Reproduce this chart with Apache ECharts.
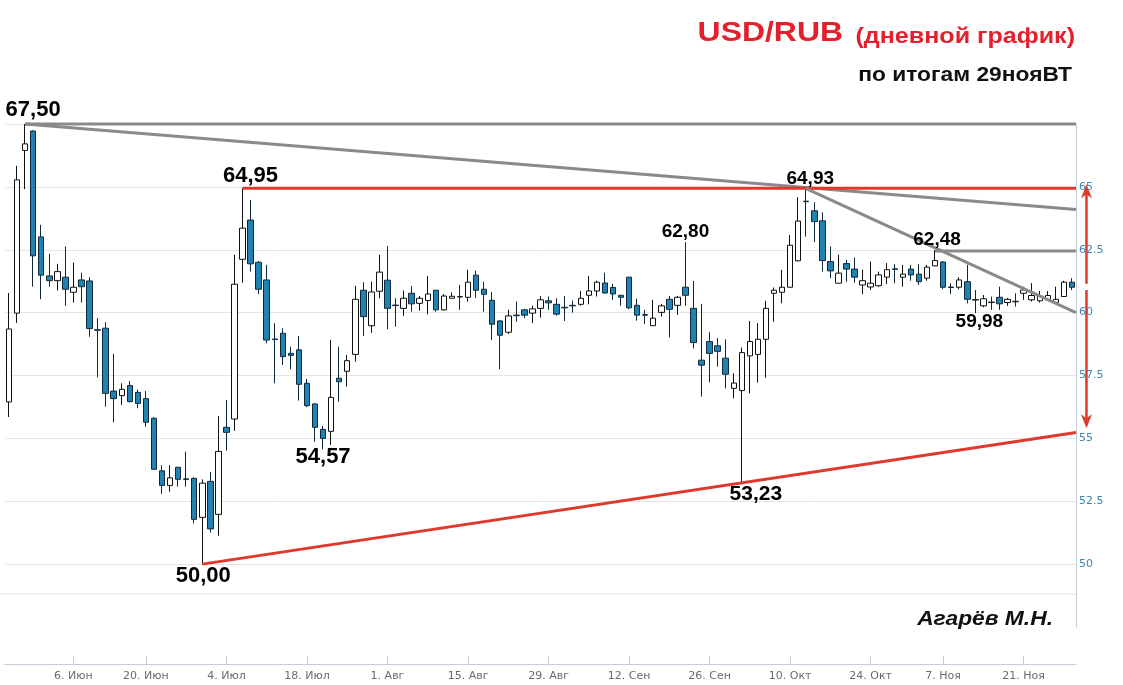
<!DOCTYPE html>
<html>
<head>
<meta charset="utf-8">
<script src="https://cdn.jsdelivr.net/npm/echarts@6/dist/echarts.min.js"></script>
<style>
  html, body { margin: 0; padding: 0; background: #fff; }
  #chart { width: 1123px; height: 685px; }
</style>
</head>
<body>
<div id="chart"></div>
<script>
// торговые дни MOEX с 25 мая по 29 ноября 2022
const firstDay = '2022-05-25'
const lastDay = '2022-11-29'
const holidays = ['2022-06-13', '2022-11-04']
const tickDates = ['2022-06-06', '2022-06-20', '2022-07-04', '2022-07-18', '2022-08-01', '2022-08-15',
  '2022-08-29', '2022-09-12', '2022-09-26', '2022-10-10', '2022-10-24', '2022-11-07', '2022-11-21']
const monthNames = ['Янв', 'Фев', 'Мар', 'Апр', 'Май', 'Июн', 'Июл', 'Авг', 'Сен', 'Окт', 'Ноя', 'Дек']

// OHLC
const opens = [56.45, 59.98, 66.45, 67.22, 63.01, 61.46, 61.27, 61.41, 60.81, 61.30,
  61.26, 59.32, 59.38, 56.88, 56.70, 57.10, 56.83, 56.58, 55.80, 53.71,
  53.13, 53.85, 53.39, 53.41, 51.86, 53.29, 51.98, 55.44, 55.77, 62.12,
  63.68, 62.00, 61.30, 58.95, 59.18, 58.38, 58.52, 57.19, 56.37, 55.36,
  55.28, 57.39, 57.67, 58.34, 60.89, 59.48, 60.85, 61.29, 60.30, 60.17,
  60.77, 60.37, 60.48, 60.89, 60.11, 60.57, 60.64, 60.61, 61.49, 60.93,
  60.49, 59.67, 59.22, 59.90, 60.11, 59.98, 60.17, 60.47, 60.33, 60.21,
  60.29, 60.33, 60.69, 60.86, 61.18, 61.00, 60.69, 61.41, 60.29, 59.92,
  59.48, 60.01, 60.53, 60.29, 61.01, 60.17, 58.11, 58.85, 58.68, 58.19,
  56.99, 56.90, 58.28, 58.34, 58.94, 60.77, 60.81, 61.01, 62.06, 64.43,
  64.05, 63.65, 62.03, 61.17, 61.95, 61.73, 61.10, 61.02, 61.07, 61.41,
  61.74, 61.41, 61.73, 61.53, 61.37, 61.86, 62.01, 61.02, 61.01, 61.23,
  60.52, 60.27, 60.42, 60.61, 60.40, 60.45, 60.77, 60.51, 60.47, 60.51,
  60.41, 60.64, 61.21]
const closes = [59.35, 65.28, 66.71, 62.26, 61.49, 61.27, 61.63, 60.93, 61.01, 61.03,
  59.37, 59.30, 56.79, 56.58, 56.95, 56.46, 56.39, 55.64, 53.77, 53.13,
  53.43, 53.37, 53.37, 51.78, 53.22, 51.40, 54.48, 55.24, 61.13, 63.36,
  61.94, 60.93, 58.91, 58.93, 58.25, 58.30, 57.15, 56.30, 55.44, 55.00,
  56.63, 57.25, 58.09, 60.53, 59.84, 60.82, 61.61, 60.17, 60.28, 60.57,
  60.35, 60.57, 60.74, 60.11, 60.66, 60.65, 60.62, 61.21, 60.89, 60.73,
  59.54, 59.10, 59.87, 59.88, 59.90, 60.15, 60.51, 60.39, 59.94, 60.19,
  60.27, 60.57, 60.86, 61.21, 60.78, 60.74, 60.61, 60.19, 59.90, 59.90,
  59.78, 60.27, 60.13, 60.61, 60.69, 58.81, 57.91, 58.38, 58.46, 57.55,
  57.20, 58.41, 58.85, 58.94, 60.17, 60.89, 61.01, 62.68, 63.64, 64.41,
  63.62, 62.07, 61.66, 61.57, 61.73, 61.41, 61.27, 61.17, 61.50, 61.71,
  61.72, 61.53, 61.50, 61.23, 61.81, 62.07, 61.01, 61.00, 61.30, 60.53,
  60.50, 60.55, 60.40, 60.35, 60.53, 60.43, 60.90, 60.68, 60.66, 60.68,
  60.53, 61.21, 61.01]
const lows = [55.85, 59.59, 64.91, 61.03, 60.53, 61.03, 60.88, 60.27, 60.40, 60.40,
  59.04, 57.43, 56.26, 55.64, 56.33, 56.43, 56.20, 55.46, 53.75, 52.79,
  52.88, 53.08, 53.08, 51.62, 50.00, 51.26, 51.13, 54.51, 55.30, 61.19,
  61.63, 60.74, 58.78, 57.19, 57.92, 57.75, 56.50, 56.24, 54.87, 54.57,
  54.74, 56.46, 57.06, 58.05, 59.07, 59.20, 60.57, 59.34, 59.44, 59.87,
  60.04, 60.08, 59.93, 60.04, 60.08, 60.55, 60.11, 60.44, 60.58, 60.04,
  58.91, 57.75, 59.15, 59.64, 59.78, 59.58, 59.80, 60.11, 59.88, 59.67,
  60.00, 60.27, 60.33, 60.64, 60.76, 60.51, 60.27, 60.13, 59.68, 59.55,
  59.47, 59.84, 59.02, 59.91, 60.27, 58.58, 56.66, 57.23, 57.85, 56.99,
  56.59, 53.23, 56.79, 57.22, 57.41, 59.64, 60.37, 61.00, 62.04, 63.02,
  62.80, 61.63, 61.37, 61.16, 61.23, 61.19, 60.73, 60.90, 61.03, 61.14,
  61.17, 61.03, 61.27, 61.10, 61.27, 61.84, 60.93, 60.74, 60.93, 60.37,
  59.98, 60.21, 60.11, 60.11, 60.27, 60.24, 60.51, 60.44, 60.40, 60.47,
  60.41, 60.63, 60.90]
const highs = [60.78, 65.84, 67.50, 67.25, 63.49, 62.34, 61.94, 62.63, 61.99, 61.59,
  61.41, 59.78, 59.62, 58.36, 57.19, 57.28, 56.95, 56.88, 55.84, 53.93,
  53.93, 53.87, 54.47, 53.45, 53.37, 53.66, 55.89, 56.53, 62.30, 64.95,
  64.48, 62.05, 61.90, 59.58, 59.38, 58.65, 59.07, 57.36, 56.40, 55.49,
  58.91, 58.65, 58.32, 61.06, 61.21, 61.23, 62.30, 62.65, 60.57, 60.88,
  61.06, 60.66, 61.46, 60.90, 60.74, 60.80, 61.10, 61.70, 61.67, 61.23,
  60.82, 59.70, 60.11, 60.44, 60.15, 60.27, 60.66, 60.64, 60.57, 60.66,
  60.48, 60.86, 61.46, 61.27, 61.59, 61.14, 60.70, 61.42, 60.55, 60.11,
  60.51, 60.35, 60.66, 60.66, 62.80, 61.26, 60.35, 59.22, 58.99, 58.94,
  57.59, 58.61, 59.67, 59.58, 60.47, 61.00, 61.70, 63.09, 64.59, 64.93,
  64.39, 63.99, 62.63, 62.30, 62.10, 62.19, 61.70, 62.03, 61.63, 61.97,
  61.93, 61.90, 61.90, 61.93, 61.90, 62.48, 62.05, 61.17, 61.41, 61.90,
  60.90, 60.70, 60.64, 61.03, 60.58, 60.77, 61.03, 61.17, 60.86, 60.86,
  61.03, 61.27, 61.37]

// линии автора: [номер свечи, цена]
const topLevel = [[2, 67.5], [132.5, 67.5]]
const downTrend = [[2, 67.5], [132.5, 64.1]]
const redLevel = [[29, 64.95], [132.5, 64.95]]
const shortTrend = [[99, 64.93], [132.5, 60.0]]
const midLevel = [[115, 62.45], [132.5, 62.45]]
const upTrend = [[24, 50.0], [132.5, 55.23]]
// стрелка диапазона справа от оси: два отрезка
const arrowUpper = [[133.8, 65.1], [133.8, 61.15]]
const arrowLower = [[133.8, 60.9], [133.8, 55.4]]

// подписи экстремумов
const noteIdx = [2, 29, 39, 24, 84, 91, 99, 115, 120]
const noteVal = [67.5, 64.95, 54.57, 50.0, 62.8, 53.23, 64.93, 62.48, 59.98]
const noteText = ['67,50', '64,95', '54,57', '50,00', '62,80', '53,23', '64,93', '62,48', '59,98']

function tradingDays() {
  const out = []
  let d = new Date(firstDay + 'T00:00:00Z')
  const end = new Date(lastDay + 'T00:00:00Z')
  while (d <= end) {
    const wd = d.getUTCDay()
    const s = d.toISOString().slice(0, 10)
    if (wd !== 0 && wd !== 6 && holidays.indexOf(s) < 0) out.push(s)
    d = new Date(d.getTime() + 86400000)
  }
  return out
}
const dates = tradingDays()

const noteStyle = [
  { offset: [8, -14], fontSize: 22 },
  { offset: [8, -12], fontSize: 22 },
  { offset: [0, 8], fontSize: 22 },
  { offset: [1, 12], fontSize: 22 },
  { offset: [0, -10], fontSize: 19 },
  { offset: [14, 11], fontSize: 21 },
  { offset: [4, -10], fontSize: 19 },
  { offset: [2, -10], fontSize: 19 },
  { offset: [4, 9], fontSize: 19 }
]

const gray = '#8a8a8a'
const red = '#e0392c'
const stretch = 1.14 // надписи на картинке растянуты по горизонтали

function trendSeries(data, color) {
  return {
    type: 'line', xAxisIndex: 1, yAxisIndex: 0,
    data: data, symbol: 'none', silent: true, clip: false,
    lineStyle: { color: color, width: 3 }, z: 5
  }
}

function headText(text, x, y, size, color, italic) {
  return {
    type: 'text', silent: true, x: x, y: y, scaleX: stretch,
    style: {
      text: text, x: 0, y: 0, textAlign: 'right', textVerticalAlign: 'middle',
      fill: color, font: (italic ? 'italic ' : '') + 'bold ' + size + 'px "Liberation Sans"'
    }
  }
}

const chart = echarts.init(document.getElementById('chart'))
const option = {
  animation: false,
  backgroundColor: '#fff',
  grid: { left: 5, top: 124, width: 1071, height: 503 },
  xAxis: [{
    type: 'category',
    data: dates,
    boundaryGap: true,
    offset: 37,
    axisLine: { show: true, onZero: false, lineStyle: { color: '#c3cdd9', width: 1 } },
    axisTick: {
      show: true, inside: true, length: 8, alignWithLabel: true,
      interval: (i, v) => tickDates.indexOf(v) >= 0,
      lineStyle: { color: '#c3cdd9' }
    },
    axisLabel: {
      interval: (i, v) => tickDates.indexOf(v) >= 0,
      color: '#6b6b6b', fontFamily: 'DejaVu Sans', fontSize: 11, margin: 7,
      formatter: v => {
        const p = v.split('-')
        return parseInt(p[2], 10) + '. ' + monthNames[parseInt(p[1], 10) - 1]
      }
    },
    splitLine: { show: false }
  }, {
    type: 'value',
    min: -0.5,
    max: dates.length - 0.5,
    show: false,
    axisLine: { show: false, onZero: false },
    splitLine: { show: false }
  }],
  yAxis: {
    type: 'value',
    position: 'right',
    min: 47.5,
    max: 67.5,
    interval: 2.5,
    axisLine: { show: true, onZero: false, lineStyle: { color: '#c3cdd9' } },
    axisTick: { show: false },
    axisLabel: {
      color: '#3f86b0', fontFamily: 'DejaVu Sans', fontSize: 11, margin: 3,
      formatter: v => (v === 47.5 || v === 67.5) ? '' : String(v)
    },
    splitLine: { show: true, showMinLine: false, lineStyle: { color: '#e4e4e4', width: 1 } }
  },
  series: [
    {
      type: 'candlestick',
      data: dates.map((d, i) => [opens[i], closes[i], lows[i], highs[i]]),
      barWidth: 6,
      itemStyle: {
        color: '#ffffff',
        color0: '#1f82b3',
        borderColor: '#111111',
        borderColor0: '#10293a',
        borderWidth: 1
      },
      z: 3
    },
    trendSeries(topLevel, gray),
    trendSeries(downTrend, gray),
    trendSeries(redLevel, red),
    trendSeries(shortTrend, gray),
    trendSeries(midLevel, gray),
    trendSeries(upTrend, red),
    {
      type: 'scatter', xAxisIndex: 1, yAxisIndex: 0, silent: true, clip: false,
      symbolSize: 0,
      itemStyle: { opacity: 1 },
      data: noteIdx.map((x, i) => ({
        value: [x, noteVal[i]],
        label: {
          show: true, position: 'inside', formatter: noteText[i],
          offset: noteStyle[i].offset, fontSize: noteStyle[i].fontSize,
          fontFamily: 'Liberation Sans', fontWeight: 'bold', color: '#000',
          textBorderWidth: 0, opacity: 1
        }
      })),
      z: 7
    }
  ],
  graphic: [
    {
      type: 'line', silent: true,
      shape: { x1: 0, y1: 594, x2: 1076, y2: 594 },
      style: { stroke: '#e3e3e3', lineWidth: 1 }
    },
    headText('USD/RUB', 843, 33, 28, '#e5202e'),
    headText('(дневной график)', 1075, 37, 22, '#e5202e'),
    headText('по итогам 29нояВТ', 1072, 75, 20, '#111'),
    headText('Агарёв М.Н.', 1053, 619, 20, '#111', true)
  ]
}
chart.setOption(option)

// стрелка: координаты через шкалы графика
const px = p => chart.convertToPixel({ xAxisIndex: 1, yAxisIndex: 0 }, p)
const a0 = px(arrowUpper[0]), a1 = px(arrowUpper[1])
const b0 = px(arrowLower[0]), b1 = px(arrowLower[1])
const head = 14, half = 5.5
chart.setOption({
  graphic: option.graphic.concat([
    { type: 'line', silent: true, shape: { x1: a0[0], y1: a0[1] + 8, x2: a1[0], y2: a1[1] }, style: { stroke: red, lineWidth: 2.5 } },
    { type: 'line', silent: true, shape: { x1: b0[0], y1: b0[1], x2: b1[0], y2: b1[1] - 8 }, style: { stroke: red, lineWidth: 2.5 } },
    { type: 'polygon', silent: true, shape: { points: [[a0[0], a0[1]], [a0[0] - half, a0[1] + head], [a0[0], a0[1] + head - 4], [a0[0] + half, a0[1] + head]] }, style: { fill: red } },
    { type: 'polygon', silent: true, shape: { points: [[b1[0], b1[1]], [b1[0] - half, b1[1] - head], [b1[0], b1[1] - head + 4], [b1[0] + half, b1[1] - head]] }, style: { fill: red } }
  ])
})
</script>
</body>
</html>
